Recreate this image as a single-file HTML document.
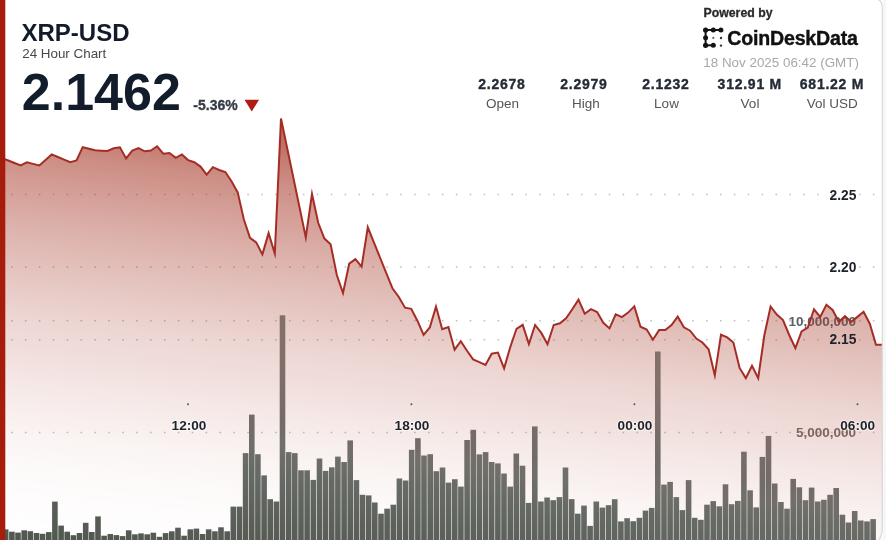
<!DOCTYPE html>
<html><head><meta charset="utf-8"><title>XRP-USD 24 Hour Chart</title>
<style>
html,body{margin:0;padding:0;background:#fff;}
body{width:886px;height:540px;overflow:hidden;position:relative;font-family:"Liberation Sans",sans-serif;}
svg{position:absolute;left:0;top:0;will-change:transform;}
.grid{stroke:#c0c0c0;stroke-width:1.6;stroke-dasharray:1.6 12.3;}
.b{font-weight:bold;}
</style></head><body>
<svg width="886" height="540" viewBox="0 0 886 540">
<defs>
<linearGradient id="fillg" gradientUnits="userSpaceOnUse" x1="50" y1="116" x2="3.1" y2="534.8">
<stop offset="0" stop-color="#a83c2c" stop-opacity="0.74"/>
<stop offset="0.0934" stop-color="#a83c2c" stop-opacity="0.585"/>
<stop offset="0.151" stop-color="#a83c2c" stop-opacity="0.518"/>
<stop offset="0.269" stop-color="#a83c2c" stop-opacity="0.395"/>
<stop offset="0.387" stop-color="#a83c2c" stop-opacity="0.292"/>
<stop offset="0.483" stop-color="#a83c2c" stop-opacity="0.21"/>
<stop offset="0.575" stop-color="#a83c2c" stop-opacity="0.16"/>
<stop offset="0.651" stop-color="#a83c2c" stop-opacity="0.11"/>
<stop offset="0.771" stop-color="#a83c2c" stop-opacity="0.05"/>
<stop offset="0.842" stop-color="#a83c2c" stop-opacity="0.026"/>
<stop offset="1" stop-color="#a83c2c" stop-opacity="0"/>
</linearGradient>
<linearGradient id="barg" gradientUnits="userSpaceOnUse" x1="50" y1="116" x2="3.1" y2="534.8">
<stop offset="0" stop-color="#84706b"/>
<stop offset="0.469" stop-color="#84706b"/>
<stop offset="0.67" stop-color="#726b67"/>
<stop offset="0.717" stop-color="#716f69"/>
<stop offset="0.8" stop-color="#646963"/>
<stop offset="0.87" stop-color="#5d625c"/>
<stop offset="1" stop-color="#51584f"/>
</linearGradient>
</defs>
<!-- grid -->
<line x1="11" y1="194.5" x2="882" y2="194.5" class="grid"/>
<line x1="11" y1="267" x2="882" y2="267" class="grid"/>
<line x1="11" y1="320.7" x2="882" y2="320.7" class="grid"/>
<line x1="11" y1="339.7" x2="882" y2="339.7" class="grid"/>
<line x1="11" y1="432.5" x2="882" y2="432.5" class="grid"/>
<!-- volume labels -->
<text x="856" y="325.8" text-anchor="end" class="b" font-size="13.5" fill="#56606a">10,000,000</text>
<text x="856" y="437.1" text-anchor="end" class="b" font-size="13.5" fill="#786c6a">5,000,000</text>
<!-- area -->
<path d="M1.2 158 L8.3 160.5 L14.5 163 L20.7 165.4 L26.9 162.3 L33.1 163.9 L39.3 165.5 L45.5 159.9 L51.7 154.4 L57.9 157 L64.1 159.6 L70.3 162.2 L76.5 160.5 L82.7 147.2 L88.9 148.8 L95.1 150.3 L101.3 150.7 L107.5 151 L113.7 148.3 L119.9 147.3 L126.1 158.4 L132.3 150.6 L138.5 148 L144.7 151.3 L150.9 150.6 L157.1 146.3 L163.3 153.7 L169.5 153 L175.7 157.8 L181.9 154.4 L188.1 160.1 L194.3 162.2 L200.5 166.6 L206.7 174.7 L212.9 167.2 L219.1 170 L225.3 172 L231.5 181.3 L237.7 192.4 L243.8 219.3 L250 237.8 L256.2 242.4 L262.4 254.4 L268.6 233.1 L274.8 253.5 L281 118.5 L287.2 148.2 L293.4 178 L299.6 207.8 L305.8 237.5 L312 194 L318.2 222.8 L324.4 238.6 L330.6 244.2 L336.8 275 L343 293.1 L349.2 263.7 L355.4 259.2 L361.6 266.6 L367.8 227.3 L374 242.6 L380.2 258 L386.4 273.3 L392.6 288.6 L398.8 297 L405 307.7 L411.2 308.8 L417.4 320.7 L423.6 334.8 L429.8 327.5 L436 306.6 L442.2 329.2 L448.4 327.1 L454.6 349.7 L460.8 341.2 L467 350.8 L473.1 359.4 L479.3 362.2 L485.5 365 L491.7 353.7 L497.9 352.6 L504.1 368.4 L510.3 347 L516.5 328.8 L522.7 324.9 L528.9 344.1 L535.1 325 L541.3 332.9 L547.5 344.2 L553.7 325 L559.9 323.3 L566.1 318.2 L572.3 309.2 L578.5 299.6 L584.7 313.7 L590.9 309.2 L597.1 312 L603.3 322.8 L609.5 328.4 L615.7 314.3 L621.9 317.1 L628.1 312.6 L634.3 306.4 L640.5 326.7 L646.7 329.5 L652.9 339.7 L659.1 330.1 L665.3 330.1 L671.5 325 L677.7 316.6 L683.9 327.3 L690.1 330.7 L696.3 338.6 L702.4 342.5 L708.6 349.3 L714.8 375.3 L721 334.6 L727.2 337.4 L733.4 342.5 L739.6 367.9 L745.8 378.1 L752 365.7 L758.2 378.1 L764.4 335 L770.6 306.5 L776.8 314.5 L783 320 L789.2 335 L795.4 348.2 L801.6 331.3 L807.8 327.5 L814 309.3 L820.2 317 L826.4 304.8 L832.6 310 L838.8 321.8 L845 316.2 L851.2 321.9 L857.4 316.9 L863.6 311.8 L869.8 323.7 L876 344.8 L882.2 344.8 L882 540 L5 540 Z" fill="url(#fillg)"/>
<!-- bars -->
<g fill="url(#barg)"><rect x="2.9" y="529.4" width="5.6" height="12.6"/><rect x="9.1" y="531.7" width="5.6" height="10.3"/><rect x="15.2" y="532.6" width="5.6" height="9.4"/><rect x="21.4" y="530.3" width="5.6" height="11.7"/><rect x="27.5" y="531.2" width="5.6" height="10.8"/><rect x="33.7" y="533" width="5.6" height="9"/><rect x="39.8" y="533.8" width="5.6" height="8.2"/><rect x="46" y="532.1" width="5.6" height="9.9"/><rect x="52.1" y="501.6" width="5.6" height="40.4"/><rect x="58.3" y="525.6" width="5.6" height="16.4"/><rect x="64.4" y="531.7" width="5.6" height="10.3"/><rect x="70.6" y="535.2" width="5.6" height="6.8"/><rect x="76.7" y="533" width="5.6" height="9"/><rect x="82.9" y="522.8" width="5.6" height="19.2"/><rect x="89" y="532" width="5.6" height="10"/><rect x="95.2" y="516.4" width="5.6" height="25.6"/><rect x="101.3" y="535.7" width="5.6" height="6.3"/><rect x="107.5" y="534" width="5.6" height="8"/><rect x="113.6" y="535.1" width="5.6" height="6.9"/><rect x="119.8" y="536.1" width="5.6" height="5.9"/><rect x="125.9" y="530.3" width="5.6" height="11.7"/><rect x="132.1" y="534.3" width="5.6" height="7.7"/><rect x="138.2" y="533.4" width="5.6" height="8.6"/><rect x="144.4" y="534.3" width="5.6" height="7.7"/><rect x="150.5" y="532.7" width="5.6" height="9.3"/><rect x="156.7" y="536.8" width="5.6" height="5.2"/><rect x="162.8" y="533.1" width="5.6" height="8.9"/><rect x="169" y="531.3" width="5.6" height="10.7"/><rect x="175.2" y="527.7" width="5.6" height="14.3"/><rect x="181.3" y="535.7" width="5.6" height="6.3"/><rect x="187.5" y="529.3" width="5.6" height="12.7"/><rect x="193.6" y="528.6" width="5.6" height="13.4"/><rect x="199.8" y="534" width="5.6" height="8"/><rect x="205.9" y="529.3" width="5.6" height="12.7"/><rect x="212.1" y="531.3" width="5.6" height="10.7"/><rect x="218.2" y="527.3" width="5.6" height="14.7"/><rect x="224.4" y="531.3" width="5.6" height="10.7"/><rect x="230.5" y="506.6" width="5.6" height="35.4"/><rect x="236.7" y="506.6" width="5.6" height="35.4"/><rect x="242.8" y="453.1" width="5.6" height="88.9"/><rect x="249" y="414.6" width="5.6" height="127.4"/><rect x="255.1" y="454.2" width="5.6" height="87.8"/><rect x="261.3" y="475.4" width="5.6" height="66.6"/><rect x="267.4" y="499.2" width="5.6" height="42.8"/><rect x="273.6" y="501.5" width="5.6" height="40.5"/><rect x="279.7" y="315.3" width="5.6" height="226.7"/><rect x="285.9" y="452.1" width="5.6" height="89.9"/><rect x="292" y="453.1" width="5.6" height="88.9"/><rect x="298.2" y="470.3" width="5.6" height="71.7"/><rect x="304.3" y="470.3" width="5.6" height="71.7"/><rect x="310.5" y="479.9" width="5.6" height="62.1"/><rect x="316.7" y="458.5" width="5.6" height="83.5"/><rect x="322.8" y="470.9" width="5.6" height="71.1"/><rect x="329" y="467.3" width="5.6" height="74.7"/><rect x="335.1" y="456.6" width="5.6" height="85.4"/><rect x="341.3" y="462" width="5.6" height="80"/><rect x="347.4" y="440.4" width="5.6" height="101.6"/><rect x="353.6" y="480.1" width="5.6" height="61.9"/><rect x="359.7" y="494.8" width="5.6" height="47.2"/><rect x="365.9" y="495.4" width="5.6" height="46.6"/><rect x="372" y="502.5" width="5.6" height="39.5"/><rect x="378.2" y="513.7" width="5.6" height="28.3"/><rect x="384.3" y="508.7" width="5.6" height="33.3"/><rect x="390.5" y="504.7" width="5.6" height="37.3"/><rect x="396.6" y="478.5" width="5.6" height="63.5"/><rect x="402.8" y="480.5" width="5.6" height="61.5"/><rect x="408.9" y="449.8" width="5.6" height="92.2"/><rect x="415.1" y="438.2" width="5.6" height="103.8"/><rect x="421.2" y="455.5" width="5.6" height="86.5"/><rect x="427.4" y="454.2" width="5.6" height="87.8"/><rect x="433.5" y="471.2" width="5.6" height="70.8"/><rect x="439.7" y="467.5" width="5.6" height="74.5"/><rect x="445.8" y="482.6" width="5.6" height="59.4"/><rect x="452" y="479.2" width="5.6" height="62.8"/><rect x="458.1" y="486.6" width="5.6" height="55.4"/><rect x="464.3" y="440" width="5.6" height="102"/><rect x="470.5" y="429.8" width="5.6" height="112.2"/><rect x="476.6" y="454.4" width="5.6" height="87.6"/><rect x="482.8" y="452.1" width="5.6" height="89.9"/><rect x="488.9" y="462" width="5.6" height="80"/><rect x="495.1" y="463.4" width="5.6" height="78.6"/><rect x="501.2" y="473.5" width="5.6" height="68.5"/><rect x="507.4" y="486.6" width="5.6" height="55.4"/><rect x="513.5" y="453.5" width="5.6" height="88.5"/><rect x="519.7" y="465.7" width="5.6" height="76.3"/><rect x="525.8" y="502.9" width="5.6" height="39.1"/><rect x="532" y="426.4" width="5.6" height="115.6"/><rect x="538.1" y="501.5" width="5.6" height="40.5"/><rect x="544.3" y="497.5" width="5.6" height="44.5"/><rect x="550.4" y="500.2" width="5.6" height="41.8"/><rect x="556.6" y="497.1" width="5.6" height="44.9"/><rect x="562.7" y="467.5" width="5.6" height="74.5"/><rect x="568.9" y="499.1" width="5.6" height="42.9"/><rect x="575" y="513.7" width="5.6" height="28.3"/><rect x="581.2" y="505.6" width="5.6" height="36.4"/><rect x="587.3" y="525.9" width="5.6" height="16.1"/><rect x="593.5" y="501.5" width="5.6" height="40.5"/><rect x="599.6" y="507.6" width="5.6" height="34.4"/><rect x="605.8" y="505.2" width="5.6" height="36.8"/><rect x="611.9" y="499.2" width="5.6" height="42.8"/><rect x="618.1" y="521.4" width="5.6" height="20.6"/><rect x="624.3" y="518.2" width="5.6" height="23.8"/><rect x="630.4" y="521.2" width="5.6" height="20.8"/><rect x="636.6" y="517.8" width="5.6" height="24.2"/><rect x="642.7" y="510.6" width="5.6" height="31.4"/><rect x="648.9" y="507.9" width="5.6" height="34.1"/><rect x="655" y="351.5" width="5.6" height="190.5"/><rect x="661.2" y="484.6" width="5.6" height="57.4"/><rect x="667.3" y="481.9" width="5.6" height="60.1"/><rect x="673.5" y="497.1" width="5.6" height="44.9"/><rect x="679.6" y="510.1" width="5.6" height="31.9"/><rect x="685.8" y="480.1" width="5.6" height="61.9"/><rect x="691.9" y="517.8" width="5.6" height="24.2"/><rect x="698.1" y="519.8" width="5.6" height="22.2"/><rect x="704.2" y="504.7" width="5.6" height="37.3"/><rect x="710.4" y="501.1" width="5.6" height="40.9"/><rect x="716.5" y="506.3" width="5.6" height="35.7"/><rect x="722.7" y="484.3" width="5.6" height="57.7"/><rect x="728.8" y="504.2" width="5.6" height="37.8"/><rect x="735" y="500.9" width="5.6" height="41.1"/><rect x="741.1" y="451.7" width="5.6" height="90.3"/><rect x="747.3" y="490.3" width="5.6" height="51.7"/><rect x="753.4" y="507.4" width="5.6" height="34.6"/><rect x="759.6" y="456.9" width="5.6" height="85.1"/><rect x="765.7" y="435.9" width="5.6" height="106.1"/><rect x="771.9" y="483.5" width="5.6" height="58.5"/><rect x="778.1" y="502" width="5.6" height="40"/><rect x="784.2" y="508.7" width="5.6" height="33.3"/><rect x="790.4" y="478.9" width="5.6" height="63.1"/><rect x="796.5" y="487.3" width="5.6" height="54.7"/><rect x="802.7" y="500.2" width="5.6" height="41.8"/><rect x="808.8" y="487.6" width="5.6" height="54.4"/><rect x="815" y="501.5" width="5.6" height="40.5"/><rect x="821.1" y="499.8" width="5.6" height="42.2"/><rect x="827.3" y="494.8" width="5.6" height="47.2"/><rect x="833.4" y="488" width="5.6" height="54"/><rect x="839.6" y="514.7" width="5.6" height="27.3"/><rect x="845.7" y="522.5" width="5.6" height="19.5"/><rect x="851.9" y="511" width="5.6" height="31"/><rect x="858" y="520.5" width="5.6" height="21.5"/><rect x="864.2" y="521.4" width="5.6" height="20.6"/><rect x="870.3" y="519.1" width="5.6" height="22.9"/></g>
<!-- line -->
<path d="M1.2 158 L8.3 160.5 L14.5 163 L20.7 165.4 L26.9 162.3 L33.1 163.9 L39.3 165.5 L45.5 159.9 L51.7 154.4 L57.9 157 L64.1 159.6 L70.3 162.2 L76.5 160.5 L82.7 147.2 L88.9 148.8 L95.1 150.3 L101.3 150.7 L107.5 151 L113.7 148.3 L119.9 147.3 L126.1 158.4 L132.3 150.6 L138.5 148 L144.7 151.3 L150.9 150.6 L157.1 146.3 L163.3 153.7 L169.5 153 L175.7 157.8 L181.9 154.4 L188.1 160.1 L194.3 162.2 L200.5 166.6 L206.7 174.7 L212.9 167.2 L219.1 170 L225.3 172 L231.5 181.3 L237.7 192.4 L243.8 219.3 L250 237.8 L256.2 242.4 L262.4 254.4 L268.6 233.1 L274.8 253.5 L281 118.5 L287.2 148.2 L293.4 178 L299.6 207.8 L305.8 237.5 L312 194 L318.2 222.8 L324.4 238.6 L330.6 244.2 L336.8 275 L343 293.1 L349.2 263.7 L355.4 259.2 L361.6 266.6 L367.8 227.3 L374 242.6 L380.2 258 L386.4 273.3 L392.6 288.6 L398.8 297 L405 307.7 L411.2 308.8 L417.4 320.7 L423.6 334.8 L429.8 327.5 L436 306.6 L442.2 329.2 L448.4 327.1 L454.6 349.7 L460.8 341.2 L467 350.8 L473.1 359.4 L479.3 362.2 L485.5 365 L491.7 353.7 L497.9 352.6 L504.1 368.4 L510.3 347 L516.5 328.8 L522.7 324.9 L528.9 344.1 L535.1 325 L541.3 332.9 L547.5 344.2 L553.7 325 L559.9 323.3 L566.1 318.2 L572.3 309.2 L578.5 299.6 L584.7 313.7 L590.9 309.2 L597.1 312 L603.3 322.8 L609.5 328.4 L615.7 314.3 L621.9 317.1 L628.1 312.6 L634.3 306.4 L640.5 326.7 L646.7 329.5 L652.9 339.7 L659.1 330.1 L665.3 330.1 L671.5 325 L677.7 316.6 L683.9 327.3 L690.1 330.7 L696.3 338.6 L702.4 342.5 L708.6 349.3 L714.8 375.3 L721 334.6 L727.2 337.4 L733.4 342.5 L739.6 367.9 L745.8 378.1 L752 365.7 L758.2 378.1 L764.4 335 L770.6 306.5 L776.8 314.5 L783 320 L789.2 335 L795.4 348.2 L801.6 331.3 L807.8 327.5 L814 309.3 L820.2 317 L826.4 304.8 L832.6 310 L838.8 321.8 L845 316.2 L851.2 321.9 L857.4 316.9 L863.6 311.8 L869.8 323.7 L876 344.8 L882.2 344.8" fill="none" stroke="#a42e26" stroke-width="2.0" stroke-linejoin="miter" stroke-miterlimit="6"/>
<!-- price labels -->
<g class="b" font-size="13.8" fill="#1e232b" text-anchor="end">
<text x="856.4" y="199.5">2.25</text>
<text x="856.4" y="271.9">2.20</text>
<text x="856.4" y="344.1">2.15</text>
</g>
<!-- time labels -->
<g fill="#555"><circle cx="188" cy="404.2" r="1"/><circle cx="411.4" cy="404.2" r="1"/><circle cx="634.4" cy="404.2" r="1"/><circle cx="857.5" cy="404.2" r="1"/></g>
<g class="b" font-size="13.6" fill="#1e232b" text-anchor="middle" stroke="#fff" stroke-width="2" stroke-opacity="0.5" paint-order="stroke">
<text x="189" y="429.8">12:00</text>
<text x="412" y="429.8">18:00</text>
<text x="635" y="429.8">00:00</text>
<text x="857.7" y="429.8">06:00</text>
</g>
<!-- header -->
<text x="21.5" y="41.4" class="b" font-size="24" fill="#131b2a">XRP-USD</text>
<text x="22.2" y="57.7" font-size="13.4" fill="#484848">24 Hour Chart</text>
<text x="21.8" y="109.7" class="b" font-size="52" fill="#121c2b">2.1462</text>
<text x="193.3" y="109.9" class="b" font-size="14" fill="#333b46" stroke="#333b46" stroke-width="0.3">-5.36%</text>
<path d="M244.5 99.7 L259 99.7 L251.75 111.6 Z" fill="#b01c14"/>
<!-- stats -->
<g class="b" font-size="14" fill="#232b36" stroke="#232b36" stroke-width="0.35" text-anchor="middle" letter-spacing="0.75">
<text x="502" y="89">2.2678</text>
<text x="584" y="89">2.2979</text>
<text x="666" y="89">2.1232</text>
<text x="749.8" y="89">312.91 M</text>
<text x="832" y="89">681.22 M</text>
</g>
<g font-size="13.5" fill="#555" text-anchor="middle">
<text x="502.5" y="107.9">Open</text>
<text x="586" y="107.9">High</text>
<text x="666.5" y="107.9">Low</text>
<text x="750" y="107.9">Vol</text>
<text x="832.3" y="107.9">Vol USD</text>
</g>
<!-- powered by -->
<text x="703.5" y="16.8" class="b" font-size="12.3" fill="#2a2a2a" stroke="#2a2a2a" stroke-width="0.3">Powered by</text>
<g fill="#141414">
<rect x="705.6" y="29" width="15.3" height="2"/><rect x="704.6" y="30" width="2" height="15.3"/><rect x="705.6" y="44.3" width="7.7" height="2"/>
<circle cx="705.6" cy="30" r="2.6"/><circle cx="713.3" cy="30" r="2.5"/><circle cx="720.9" cy="30" r="2.5"/>
<circle cx="705.6" cy="37.7" r="2.5"/><circle cx="705.6" cy="45.3" r="2.6"/><circle cx="713.3" cy="45.3" r="2.5"/>
<circle cx="713.3" cy="37.9" r="1.1" fill="#666"/><circle cx="721" cy="38" r="1.2" fill="#333"/><circle cx="721" cy="45.6" r="1.2" fill="#333"/>
</g>
<text x="727.3" y="44.8" class="b" font-size="19.6" fill="#111" stroke="#111" stroke-width="0.4" letter-spacing="-0.2">CoinDeskData</text>
<text x="703.3" y="67.4" font-size="13.4" fill="#a8a8a8">18 Nov 2025 06:42 (GMT)</text>
<!-- frame -->
<rect x="883" y="0" width="3" height="540" fill="#f7f7f7"/>
<path d="M872 -2 Q882.3 -2 882.3 8 L882.3 527 Q882.3 537 877 542" fill="none" stroke="#d8d8d8" stroke-width="1.2"/>
<rect x="0" y="0" width="5.3" height="540" fill="#a61d0c"/>
</svg>
</body></html>
